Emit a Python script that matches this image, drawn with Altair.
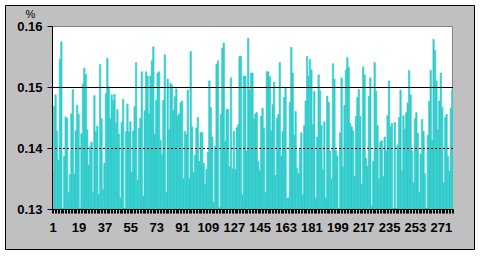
import altair as alt
import pandas as pd

values = [
0.1360,0.1468,0.1487,0.1428,0.1380,0.1546,0.1574,0.1300,0.1386,0.1451,
0.1449,0.1327,0.1357,0.1456,0.1496,0.1357,0.1428,0.1470,0.1455,0.1302,
0.1423,0.1505,0.1531,0.1521,0.1430,0.1372,0.1402,0.1410,0.1327,0.1486,
0.1427,0.1436,0.1324,0.1537,0.1448,0.1332,0.1375,0.1489,0.1547,0.1500,
0.1448,0.1487,0.1478,0.1488,0.1440,0.1463,0.1423,0.1318,0.1442,0.1480,
0.1300,0.1427,0.1472,0.1426,0.1443,0.1360,0.1428,0.1468,0.1540,0.1347,
0.1432,0.1449,0.1525,0.1321,0.1461,0.1525,0.1518,0.1456,0.1518,0.1543,
0.1566,0.1422,0.1478,0.1523,0.1525,0.1413,0.1388,0.1478,0.1553,0.1327,
0.1513,0.1430,0.1506,0.1503,0.1462,0.1484,0.1497,0.1452,0.1456,0.1474,
0.1477,0.1350,0.1427,0.1422,0.1495,0.1350,0.1558,0.1435,0.1360,0.1388,
0.1433,0.1450,0.1378,0.1425,0.1426,0.1375,0.1341,0.1365,0.1393,0.1510,
0.1466,0.1418,0.1311,0.1403,0.1537,0.1543,0.1302,0.1455,0.1563,0.1572,
0.1411,0.1463,0.1463,0.1369,0.1515,0.1366,0.1427,0.1365,0.1433,0.1438,
0.1550,0.1550,0.1323,0.1518,0.1518,0.1395,0.1580,0.1495,0.1523,0.1523,
0.1448,0.1456,0.1458,0.1378,0.1363,0.1452,0.1465,0.1433,0.1327,0.1525,
0.1525,0.1517,0.1428,0.1471,0.1508,0.1355,0.1449,0.1455,0.1540,0.1387,
0.1427,0.1483,0.1498,0.1318,0.1318,0.1475,0.1565,0.1523,0.1421,0.1460,
0.1367,0.1358,0.1400,0.1425,0.1323,0.1437,0.1477,0.1550,0.1518,0.1545,
0.1528,0.1438,0.1493,0.1318,0.1418,0.1520,0.1494,0.1437,0.1365,0.1443,
0.1318,0.1485,0.1475,0.1395,0.1349,0.1538,0.1513,0.1396,0.1387,0.1300,
0.1425,0.1515,0.1369,0.1470,0.1528,0.1548,0.1532,0.1440,0.1435,0.1428,
0.1353,0.1452,0.1483,0.1496,0.1452,0.1340,0.1533,0.1520,0.1383,0.1370,
0.1485,0.1515,0.1305,0.1378,0.1540,0.1493,0.1437,0.1350,0.1410,0.1412,
0.1353,0.1418,0.1395,0.1453,0.1510,0.1435,0.1440,0.1300,0.1442,0.1300,
0.1405,0.1450,0.1495,0.1362,0.1453,0.1431,0.1458,0.1474,0.1527,0.1487,
0.1395,0.1343,0.1448,0.1458,0.1424,0.1327,0.1390,0.1447,0.1427,0.1358,
0.1300,0.1421,0.1477,0.1527,0.1413,0.1578,0.1560,0.1510,0.1430,0.1477,
0.1523,0.1467,0.1343,0.1450,0.1455,0.1386,0.1362,0.1465,0.1496,
]
categories = list(range(1, len(values) + 1))
x_tick_labels = [1, 19, 37, 55, 73, 91, 109, 127, 145, 163, 181, 199, 217, 235, 253, 271]
y_ticks = [0.13, 0.14, 0.15, 0.16]

df = pd.DataFrame({"cat": categories, "val": values})

W, H = 401, 183
FONT = "Liberation Sans"
BAR = "#33CCCC"

label_list = ",".join(str(v) for v in x_tick_labels)
label_expr = f"indexof([{label_list}], datum.value) >= 0 ? datum.label : ''"

one = alt.Data(values=[{"a": 1}])

frame = alt.Chart(one).mark_rect(fill="#C0C0C0", stroke="black", strokeWidth=1).encode(
    x=alt.value(-46.5), x2=alt.value(422.5), y=alt.value(-20.5), y2=alt.value(223.5)
)
plotbg = alt.Chart(one).mark_rect(fill="white", stroke="#808080", strokeWidth=1).encode(
    x=alt.value(0.5), x2=alt.value(W - 0.5), y=alt.value(0.5), y2=alt.value(H - 0.5)
)

bars = alt.Chart(df).mark_bar(color=BAR, stroke=BAR, strokeWidth=0.6, clip=True).encode(
    x=alt.X(
        "cat:O",
        scale=alt.Scale(paddingInner=0, paddingOuter=0),
        axis=alt.Axis(
            title=None,
            labelExpr=label_expr,
            labelOverlap=False,
            labelBound=False,
            labelAngle=0,
            labelFont=FONT,
            labelFontSize=13,
            labelFontWeight="bold",
            labelColor="black",
            labelPadding=8,
            tickSize=4,
            tickColor="black",
            tickBand="extent",
            domainColor="black",
            zindex=1,
        ),
    ),
    y=alt.Y(
        "val:Q",
        scale=alt.Scale(domain=[0.13, 0.16], zero=False, nice=False),
        axis=alt.Axis(
            values=y_ticks,
            format=".2f",
            grid=False,
            title="%",
            titleAngle=0,
            titleX=-22,
            titleY=-12,
            titleAlign="center",
            titleBaseline="middle",
            titleFont=FONT,
            titleFontSize=11,
            titleFontWeight="normal",
            titleColor="black",
            labelFont=FONT,
            labelFontSize=13,
            labelFontWeight="bold",
            labelColor="black",
            labelPadding=5,
            tickSize=5,
            tickColor="black",
            domainColor="black",
            zindex=1,
        ),
    ),
    y2=alt.datum(0.13),
)

grid15 = alt.Chart(one).mark_rule(color="black", strokeWidth=1, yOffset=0.5).encode(
    y=alt.datum(0.15)
)
grid14 = alt.Chart(one).mark_rule(color="black", strokeWidth=1, strokeDash=[2, 2], yOffset=0.5).encode(
    y=alt.datum(0.14)
)

chart = alt.layer(frame, plotbg, bars, grid15, grid14).properties(
    width=W,
    height=H,
    autosize=alt.AutoSizeParams(type="none"),
    padding={"left": 52, "top": 26, "right": 28, "bottom": 47},
    background="white",
).configure_view(stroke=None)

chart.save("out.html", embed_options={"renderer": "svg", "actions": False})
